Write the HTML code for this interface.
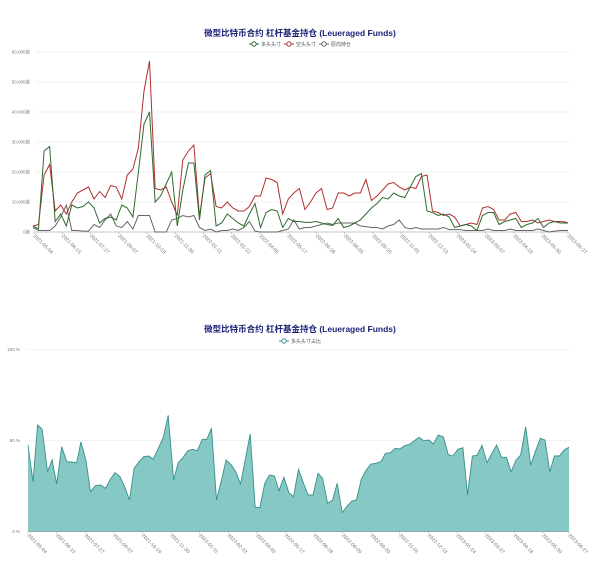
<!DOCTYPE html>
<html><head><meta charset="utf-8"><style>
html,body{margin:0;padding:0;background:#fff;}
svg{display:block;font-family:"Liberation Sans","Noto Sans CJK SC",sans-serif;}
</style></head><body>
<svg id="s" width="600" height="576" viewBox="0 0 600 576" xmlns="http://www.w3.org/2000/svg">
<rect width="600" height="576" fill="#fff"/>
<text x="300" y="36" text-anchor="middle" font-size="8.5" font-weight="bold" fill="#1a1f71">微型比特币合约 杠杆基金持仓 (Leueraged Funds)</text>
<g font-size="5" fill="#555">
<line x1="249" y1="44" x2="259" y2="44" stroke="#2e6b2e"/><circle cx="254" cy="44" r="2.2" fill="#fff" stroke="#2e6b2e"/><text x="261" y="46">多头头寸</text>
<line x1="284" y1="44" x2="294" y2="44" stroke="#b03030"/><circle cx="289" cy="44" r="2.2" fill="#fff" stroke="#b03030"/><text x="296" y="46">空头头寸</text>
<line x1="319" y1="44" x2="329" y2="44" stroke="#666"/><circle cx="324" cy="44" r="2.2" fill="#fff" stroke="#666"/><text x="331" y="46">原向持仓</text>
</g>
<text x="300" y="332" text-anchor="middle" font-size="8.5" font-weight="bold" fill="#1a1f71">微型比特币合约 杠杆基金持仓 (Leueraged Funds)</text>
<g font-size="5" fill="#555">
<line x1="279" y1="341" x2="289" y2="341" stroke="#3a8f8a"/><circle cx="284" cy="341" r="2.2" fill="#fff" stroke="#3a8f8a"/><text x="291" y="343">多头头寸占比</text>
</g>
<g id="g"></g>
</svg>
<script>
var NS="http://www.w3.org/2000/svg",g=document.getElementById('g'),h='';
function Y1(v){return 232-v*3;}
[0,10,20,30,40,50,60].forEach(function(v){var y=Y1(v);
h+='<line x1="36" x2="570" y1="'+y+'" y2="'+y+'" stroke="#ececec" stroke-width="0.7"/>';
h+='<text x="30" y="'+(y+1.5)+'" text-anchor="end" font-size="4.5" fill="#777">'+(v?v+',000':'0')+'张</text>';});
var dates=["2021-05-04","2021-06-15","2021-07-27","2021-09-07","2021-10-19","2021-11-30","2022-01-11","2022-02-22","2022-04-05","2022-05-17","2022-06-28","2022-08-09","2022-09-20","2022-11-01","2022-12-13","2023-01-24","2023-03-07","2023-04-18","2023-05-30","2023-06-27"];
function xt(x0,x1,y){dates.forEach(function(d,i){var x=i<19?x0+i*(x1-x0-9)/18.6:x1;
h+='<line x1="'+x+'" x2="'+x+'" y1="'+y+'" y2="'+(y+2)+'" stroke="#999" stroke-width="0.5"/>';
h+='<text transform="translate('+(x-1)+','+(y+4)+') rotate(45)" font-size="5" fill="#777">'+d+'</text>';});
h+='<line x1="'+x0+'" x2="'+x1+'" y1="'+y+'" y2="'+y+'" stroke="#999" stroke-width="0.6"/>';}
xt(34,568,232);
var L=[2,1,27,28.5,3.5,6,2,9,8,8.5,10,8,3,4.5,5,4,9,8,5,20,36,40,10,12,16,20,2,14,23,23,4,19,20.5,2,3,6,4.5,3,2,6,9.5,1.5,6.5,7.5,7,1.5,4.5,3.5,3.5,3.2,3.2,3.5,3,2.5,2.2,4.5,1.5,2,3,4,6,8,9.5,11.5,11,13,12,11.5,15,18.5,19.5,7,6.5,5.5,6,5,1.5,2,2.5,2,0.5,5.5,6.5,6.5,2.5,3.5,4,4.5,1.5,2.5,3,4.5,1.5,3,3.5,3,3,3];
var S=[2,2.5,19,22.5,7,9,6,10,13,14,15,11,13.5,11.5,15.5,15,11,19,21,28,47,57,14.5,14,15,10,5.5,24,27,29,5,18,19.5,8.5,8,10,8,7,7,8.5,12,12,18,17.5,16.5,6,11,13,14.5,7.5,10,13,14.5,7.5,8,13,13,12,13,13,17.5,10.5,12,14,16,16.5,15,14,15,14.5,18.5,19,7,6.5,5.5,6,5,2,2.5,3,2.5,8,8.5,7.5,4,4,6,6.5,3.5,3.5,4,3,3.5,4,3.5,3.5,3.3,3];
var N=[1.5,0.5,0.5,0.5,2,5,9,0.5,0.5,0.3,0.3,2.5,1.5,4,6,2,1.5,3.5,1,5.5,5.5,5.5,0,0,0,4,4.5,5.5,5,5.5,1.5,0.5,1,0,0.5,0.5,1,0.5,1.5,3.5,0.3,0,0,0,0,0.5,1,4,1,1.5,1.5,2,2.5,3,2.5,3,3,3,3,2,1.8,1.5,1.5,1,2,2.5,4,1.5,1,1.5,1,1,1,1,1.5,0.8,0.8,0.8,0.5,0.5,0.5,0.5,1,0.5,0.5,0.5,1,0.5,0.5,0.5,0.5,1,0.5,0,0.3,0.5,0.5,0.5];
function pl(a,c){var p=a.map(function(v,i){var x=i<97?33+i*5.549:568;return x.toFixed(1)+','+Y1(v).toFixed(1);}).join(' ');
h+='<polyline points="'+p+'" fill="none" stroke="'+c+'" stroke-width="1"/>';}
pl(N,'#666');pl(S,'#b03030');pl(L,'#2e6b2e');
// bottom
function Y2(p){return 531.7-p*1.824;}
[0,50,100].forEach(function(v){var y=Y2(v);
h+='<line x1="28" x2="570" y1="'+y+'" y2="'+y+'" stroke="#ececec" stroke-width="0.7"/>';
h+='<text x="20" y="'+(y+1.5)+'" text-anchor="end" font-size="4.5" fill="#777">'+v+' %</text>';});
var B=[73,375,86,485,98,315,110,328,124,455,136,420,148,492,161,380,174,425,186,426,200,428,211,366,224,420,236,515,249,497,262,495,275,505,288,478,300,458,313,470,325,500,338,540,350,445,363,425,375,410,388,408,400,418,413,385,426,352,439,286,453,480,465,428,478,412,490,392,502,388,515,392,528,358,540,358,552,325,565,540,578,480,590,420,603,434,615,455,628,492,640,420,653,342,666,562,678,563,691,490,703,465,716,468,728,512,741,472,754,518,766,530,779,448,792,490,804,525,817,525,830,460,842,475,855,550,868,540,880,490,893,578,906,558,918,543,930,540,943,478,956,450,968,432,981,430,994,425,1006,400,1019,398,1031,385,1044,387,1056,377,1069,373,1081,362,1094,352,1106,362,1119,360,1131,372,1144,345,1157,350,1170,404,1182,408,1195,388,1208,383,1220,525,1233,408,1245,406,1258,376,1271,428,1284,400,1296,375,1309,412,1322,412,1334,455,1347,420,1359,405,1372,320,1385,435,1397,395,1410,355,1422,360,1435,455,1447,408,1460,408,1472,390,1485,382];
var pts=[];for(var i=0;i<B.length;i+=2){var x=28+(B[i]-73)/1412*541;var y=320+B[i+1]/3;pts.push(x.toFixed(1)+','+y.toFixed(1));}
h+='<polygon points="28,531.7 '+pts.join(' ')+' 569,531.7" fill="#86c8c3" stroke="none"/>';
h+='<polyline points="'+pts.join(' ')+'" fill="none" stroke="#3a8f8a" stroke-width="0.9"/>';
xt(28,569,531.7);
g.innerHTML=h;
</script>
</body></html>
